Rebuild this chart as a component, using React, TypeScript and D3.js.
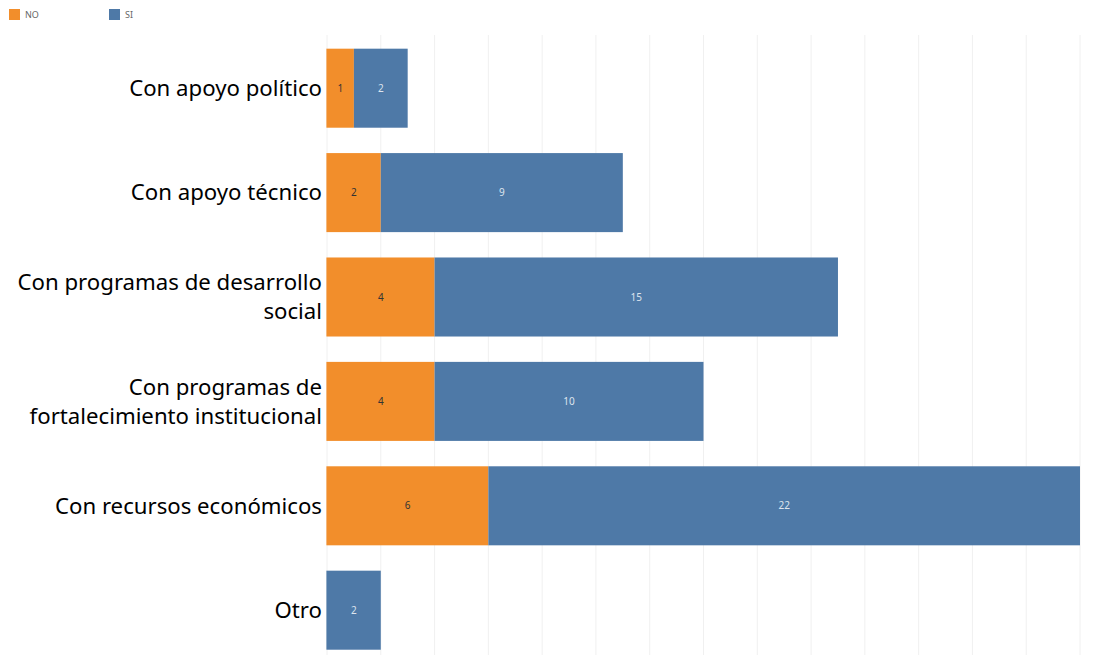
import React from "react";
import * as d3 from "d3";

const categories = [
  ["Con apoyo político"],
  ["Con apoyo técnico"],
  ["Con programas de desarrollo", "social"],
  ["Con programas de", "fortalecimiento institucional"],
  ["Con recursos económicos"],
  ["Otro"],
];
const noValues = [1, 2, 4, 4, 6, 0];
const siValues = [2, 9, 15, 10, 22, 2];
const seriesNames = ["NO", "SI"];
const colors = ["#F28E2B", "#4E79A7"];
const gridTicks = d3.range(0, 29, 2);

export default function App() {
  const W = 1102, H = 655;
  const x = d3.scaleLinear().domain([0, 28]).range([327, 1080]);
  const y = d3.scaleBand<number>().domain(d3.range(categories.length)).range([36, 36 + 6 * 104.4]).paddingInner(0.243).paddingOuter(0.1215);
  const font = "'Noto Sans', sans-serif";
  return (
    <svg width={W} height={H} style={{ position: "absolute", left: 0, top: 0 }}>
      <rect width={W} height={H} fill="#fff" />
      {gridTicks.map((t) => (
        <line key={t} x1={x(t)} x2={x(t)} y1={35} y2={H} stroke="#f0f0f0" strokeWidth={1} />
      ))}
      {categories.map((lines, i) => {
        const y0 = y(i)!;
        const bh = y.bandwidth();
        const cy = y0 + bh / 2;
        const no = noValues[i], si = siValues[i];
        const lh = 29;
        return (
          <g key={i}>
            <rect x={x(0)} y={y0} width={x(no) - x(0)} height={bh} fill={colors[0]} />
            <rect x={x(no)} y={y0} width={x(no + si) - x(no)} height={bh} fill={colors[1]} />
            <line x1={x(0) - 0.5} x2={x(0) - 0.5} y1={y0} y2={y0 + bh} stroke={no > 0 ? colors[0] : colors[1]} strokeOpacity={0.6} />
            {no > 0 && (
              <text x={(x(0) + x(no)) / 2} y={cy} dy="0.35em" textAnchor="middle" fontFamily={font} fontSize={10} fill="#333">{no}</text>
            )}
            <text x={(x(no) + x(no + si)) / 2} y={cy} dy="0.35em" textAnchor="middle" fontFamily={font} fontSize={10} fill="#dde4ee">{si}</text>
            {lines.map((l, j) => (
              <text key={j} x={322} y={cy + (j - (lines.length - 1) / 2) * lh} dy="0.35em" textAnchor="end" fontFamily={font} fontSize={22.2} fill="#000">{l}</text>
            ))}
          </g>
        );
      })}
      {seriesNames.map((s, i) => (
        <g key={s} transform={`translate(${9 + i * 100},9)`}>
          <rect width={11} height={11} fill={colors[i]} />
          <text x={16} y={6} dy="0.35em" fontFamily={font} fontSize={9} fill="#666">{s}</text>
        </g>
      ))}
    </svg>
  );
}
